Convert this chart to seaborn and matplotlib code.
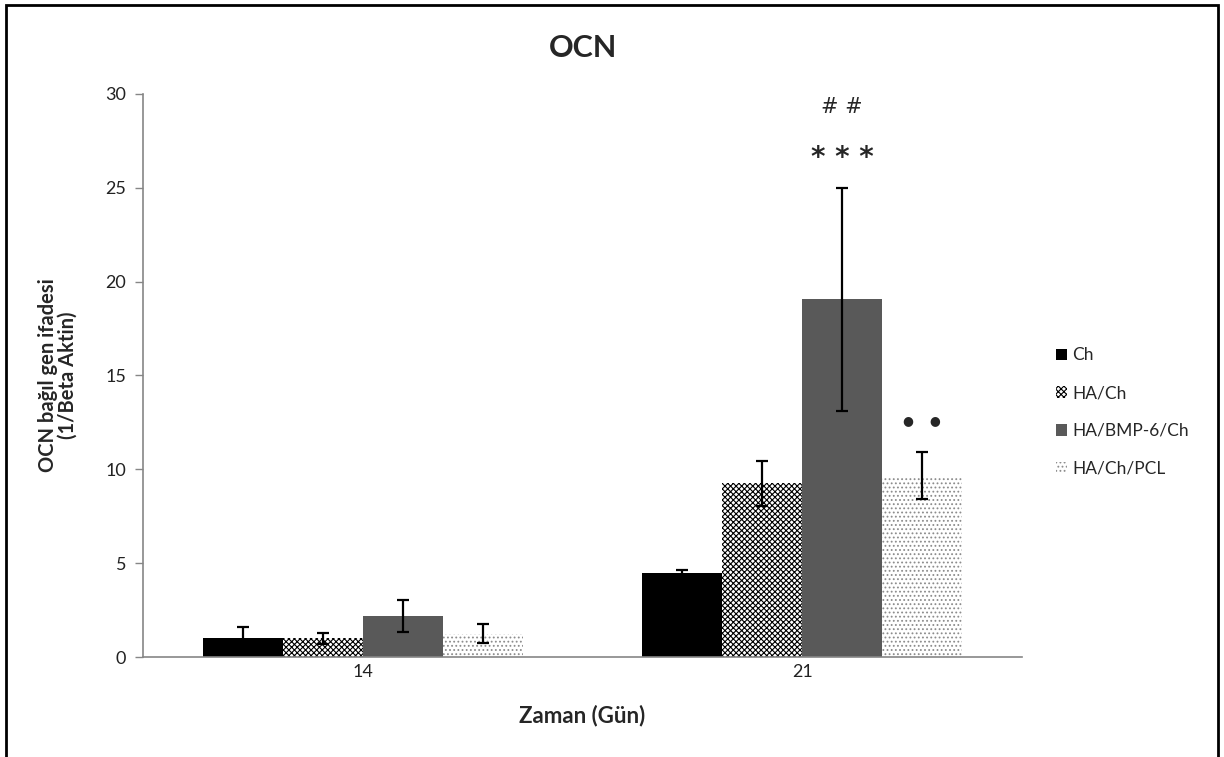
import numpy as np
import pandas as pd
import matplotlib
matplotlib.use("Agg")
import matplotlib.pyplot as plt
from matplotlib.patches import Rectangle
import seaborn as sns

# Data =================================================================================================================
days = ["14", "21"]
groups = ["Ch", "HA/Ch", "HA/BMP-6/Ch", "HA/Ch/PCL"]
means_14 = [1.0, 1.0, 2.2, 1.25]
err_14 = [0.6, 0.3, 0.86, 0.5]
means_21 = [4.5, 9.25, 19.05, 9.65]
err_21 = [0.15, 1.22, 5.95, 1.25]

colors = ["black", "white", "#595959", "white"]
hatches = [None, "xxxxxx", None, "...."]
hatch_colors = ["black", "black", "#595959", "#8c8c8c"]

df = pd.DataFrame({
    "day": np.repeat(days, len(groups)),
    "group": groups * len(days),
    "value": means_14 + means_21,
    "err": err_14 + err_21,
})

# Plot =================================================================================================================
sns.set_style("white")
plt.rcParams["font.family"] = ["Lato", "DejaVu Sans"]
plt.rcParams["hatch.linewidth"] = 0.8

fig = plt.figure(figsize=(12.24, 7.57), dpi=100)
ax = fig.add_axes([143/1224, 100/757, (1022-143)/1224, (663-100)/757])

sns.barplot(data=df, x="day", y="value", hue="group", hue_order=groups, order=days,
            palette=colors, width=0.727, gap=0, errorbar=None, ax=ax, legend=False)
bar_conts = list(ax.containers)

#### hatches and error bars
for i, cont in enumerate(bar_conts):
    sub = df[df.group == groups[i]].set_index("day").loc[days]
    xs = []
    for p in cont.patches:
        p.set_linewidth(0)
        p.set_edgecolor(hatch_colors[i])
        if hatches[i]:
            p.set_hatch(hatches[i])
        xs.append(p.get_x() + p.get_width()/2)
    ax.errorbar(xs, sub["value"], yerr=sub["err"], fmt="none", ecolor="black",
                elinewidth=1.6, capsize=4, capthick=1.6, zorder=5)

#### significance marks
bmp = bar_conts[2].patches[1]
pcl = bar_conts[3].patches[1]
xb = bmp.get_x() + bmp.get_width()/2
xp = pcl.get_x() + pcl.get_width()/2
ax.text(xb, 29.3, "# #", ha="center", va="center", fontsize=15, family="DejaVu Sans")
ax.text(xb, 26.6, "* * *", ha="center", va="center", fontsize=20, fontweight="bold", family="DejaVu Sans")
ax.text(xp, 12.6, "●    ●", ha="center", va="center", fontsize=9, family="DejaVu Sans")

#### settings
ax.set_ylim(0, 30)
ax.set_xlim(-0.5, 1.5)
ax.set_yticks(range(0, 31, 5))
ax.set_xticks([0, 1])
ax.set_xticklabels(days)
ax.set_xticks([-0.5, 0.5, 1.5], minor=True)
ax.tick_params(axis="x", which="major", length=0, labelsize=13, pad=5, labelcolor="#222222")
ax.tick_params(axis="x", which="minor", length=7, width=1, color="#868686", direction="out")
ax.tick_params(axis="y", length=6, width=1, color="#868686", direction="out", labelsize=13,
               labelcolor="#222222", left=True, pad=6)
ax.spines["top"].set_visible(False)
ax.spines["right"].set_visible(False)
ax.spines["left"].set_color("#868686")
ax.spines["bottom"].set_color("#868686")
ax.spines["left"].set_linewidth(1.2)
ax.spines["bottom"].set_linewidth(1.2)

ax.set_xlabel("Zaman (Gün)", fontsize=16, fontweight="bold", labelpad=18)
ax.set_ylabel("OCN bağıl gen ifadesi\n(1/Beta Aktin)", fontsize=14.5, fontweight="bold", labelpad=20,
              linespacing=1.0)
fig.text(583/1224, 1 - 48/757, "OCN", ha="center", va="center", fontsize=22, fontweight="bold")

handles = [cont.patches[0] for cont in bar_conts]
leg = ax.legend(handles, groups, loc="center left", bbox_to_anchor=(1040/1224, 1 - 412/757),
                bbox_transform=fig.transFigure, frameon=False, fontsize=12.5, handlelength=0.65,
                handleheight=0.65, handletextpad=0.3, labelspacing=1.25)

#### outer frame
fig.patches.append(Rectangle((6/1224, -0.02), (1218-6)/1224, 1.02 - 5/757, transform=fig.transFigure,
                             fill=False, edgecolor="black", linewidth=2))

fig.savefig("out.png", dpi=100)
